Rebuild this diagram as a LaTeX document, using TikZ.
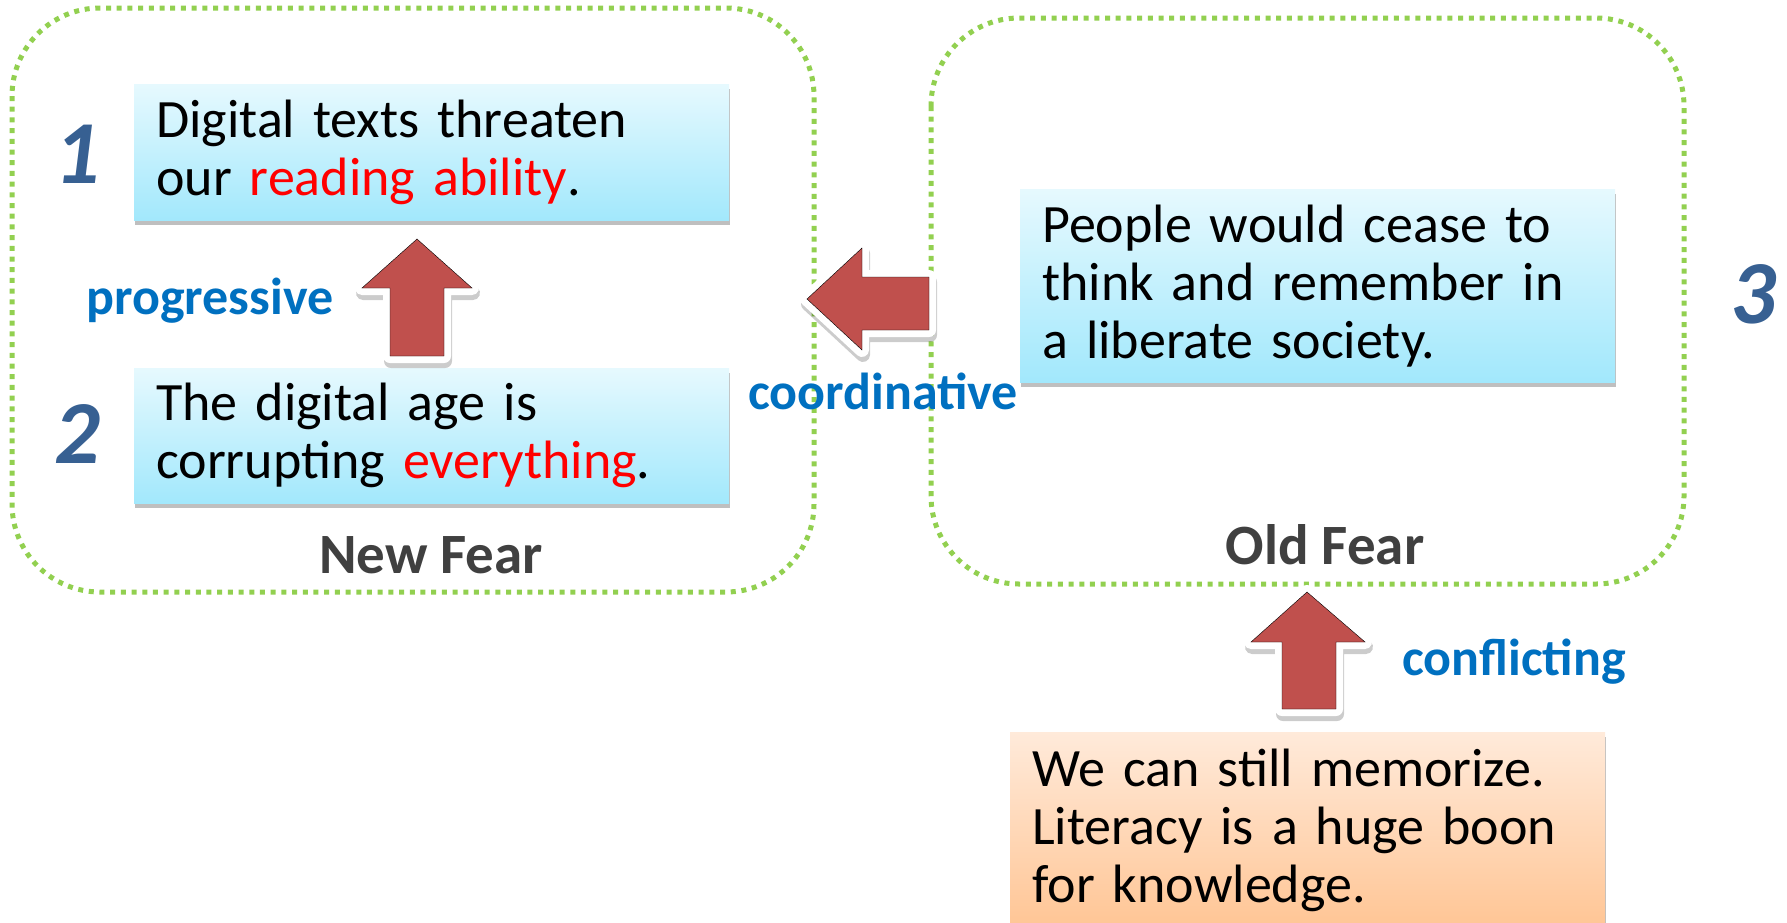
\documentclass[tikz,border=0pt]{standalone}
\usepackage{fontspec}
\setmainfont{Carlito}
\usetikzlibrary{shadows}
\definecolor{boxgreen}{RGB}{146,208,80}
\definecolor{arrred}{RGB}{192,80,77}
\definecolor{lblue}{RGB}{0,112,192}
\definecolor{numblue}{RGB}{55,96,146}
\definecolor{fgray}{RGB}{64,64,64}
\definecolor{cyantop}{RGB}{230,249,254}
\definecolor{cyanbot}{RGB}{162,232,252}
\definecolor{orgtop}{RGB}{255,234,218}
\definecolor{orgbot}{RGB}{255,190,135}
\definecolor{txtred}{RGB}{255,0,0}
\tikzset{
  group/.style={draw=boxgreen, line width=5pt, dash pattern=on 5pt off 5.7pt, rounded corners=88pt},
  textbox/.style={rectangle, inner xsep=22pt, inner ysep=0pt, align=left, anchor=north west,
    top color=cyantop, bottom color=cyanbot, minimum width=595pt, text width=551pt,
    drop shadow={shadow xshift=1pt, shadow yshift=-5pt, opacity=0.25, fill=black},
    font=\fontsize{54}{58}\selectfont},
  orangebox/.style={textbox, top color=orgtop, bottom color=orgbot, inner ysep=14pt},
  blockarrow/.style={
    preaction={draw=black, fill=black, opacity=0.2, line width=14pt, line join=round,
      transform canvas={xshift=1pt, yshift=-5pt}},
    preaction={draw=white, fill=white, line width=14pt, line join=round},
    fill=arrred},
  rel/.style={font=\fontsize{52}{58}\selectfont\bfseries, text=lblue, inner sep=0pt},
  grouplabel/.style={font=\fontsize{57}{62}\selectfont\bfseries, text=fgray, inner sep=0pt},
  num/.style={font=\fontsize{90}{92}\selectfont\bfseries\itshape, text=numblue, inner sep=0pt}
}
\begin{document}
\begin{tikzpicture}[x=1pt,y=-1pt]
\useasboundingbox (0,0) rectangle (1787,922);
\clip (0,0) rectangle (1787,922);
% groups
\draw[group] (12,8) rectangle (814,592);
\draw[group] (931,18) rectangle (1684,584);
% text boxes
\node[textbox, minimum height=136pt] (b1) at (134,84) {Digital texts threaten\\our \textcolor{txtred}{reading ability}.};
\node[textbox, minimum height=135pt] (b2) at (134,368) {The digital age is\\corrupting \textcolor{txtred}{everything}.};
\node[textbox, minimum height=193pt] (b3) at (1020,189) {People would cease to\\think and remember in\\a liberate society.};
\node[orangebox] (b4) at (1010,732) {\rule{0pt}{40pt}We can still memorize.\\Literacy is a huge boon\\for knowledge.\rule[-50pt]{0pt}{50pt}};
% labels
\node[num] (n1) at (77,154) {1};
\node[num] (n2) at (77,434) {2};
\node[num] (n3) at (1753,294) {3};
\node[rel] (lp) at (210,301) {progressive};
\node[rel] (lc) at (883,391) {coordinative};
\node[rel] (lf) at (1514,662) {conflicting};
\node[grouplabel] (gn) at (431,555) {New Fear};
\node[grouplabel] (go) at (1325,545) {Old Fear};
% block arrows
\draw[blockarrow] (417,239) -- (472,288) -- (444,288) -- (444,356) -- (390,356) -- (390,288) -- (362,288) -- cycle;
\draw[blockarrow] (807,299) -- (862,248) -- (862,277) -- (929,277) -- (929,330) -- (862,330) -- (862,350) -- cycle;
\draw[blockarrow] (1307,592) -- (1365,642) -- (1336,642) -- (1336,709) -- (1282,709) -- (1282,642) -- (1251,642) -- cycle;
\end{tikzpicture}
\end{document}
